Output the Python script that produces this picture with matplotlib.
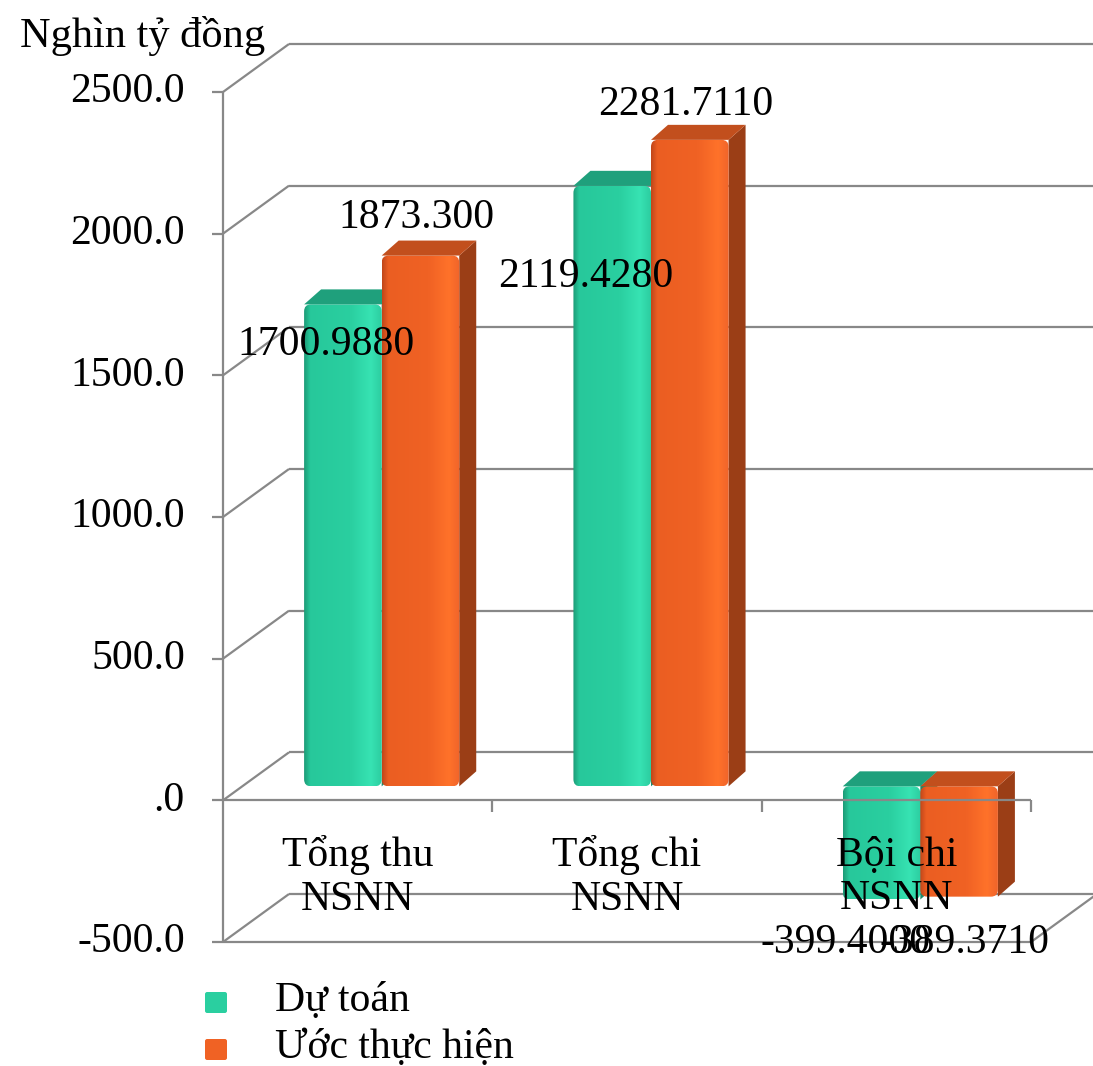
import numpy as np
import matplotlib
matplotlib.use("Agg")
import matplotlib.pyplot as plt
from matplotlib import transforms as mtrans
from matplotlib.patches import FancyBboxPatch, Polygon
from matplotlib.colors import LinearSegmentedColormap

# ---- data -------------------------------------------------------------
categories = ["Tổng thu\nNSNN", "Tổng chi\nNSNN", "Bội chi\nNSNN"]
series_names = ["Dự toán", "Ước thực hiện"]
du_toan = [1700.988, 2119.428, -399.400]
uoc_thuc_hien = [1873.300, 2281.711, -389.371]
label_decimals = [[4, 4, 4], [3, 4, 4]]
y_ticks = [-500, 0, 500, 1000, 1500, 2000, 2500]
y_tick_labels = ["-500.0", ".0", "500.0", "1000.0", "1500.0", "2000.0", "2500.0"]
y_unit = "Nghìn tỷ đồng"

# ---- style ------------------------------------------------------------
W, H, DPI = 1093, 1066, 100
plt.rcParams["font.family"] = ["Liberation Serif", "DejaVu Serif"]
FS = 30
GRID = "#888888"
GRID_LW = 1.6
BAR_W = 0.288
face_stops = [
    [(0.0, "#1c9a76"), (0.08, "#27c89b"), (0.6, "#2acfa0"), (0.86, "#37e3b3"), (1.0, "#2ccda0")],
    [(0.0, "#c0461a"), (0.08, "#eb5e22"), (0.6, "#f06224"), (0.86, "#ff722a"), (1.0, "#f0642a")],
]
cap_colors = ["#1fa07c", "#c24f1d"]
side_colors = ["#1a8a6a", "#9b3e16"]
label_offsets = [[(-17, -40), (-26, -91), (-36, -43)],
                 [(-4, 38), (-4, 35), (5, -46)]]

fig = plt.figure(figsize=(W / DPI, H / DPI), dpi=DPI)
fig.patch.set_facecolor("white")
ax = fig.add_axes([223 / W, 124 / H, 808 / W, 850 / H])
ax.set_xlim(-0.5, 2.5)
ax.set_ylim(-500, 2500)
ax.axis("off")


def px(dx, dy):
    return mtrans.ScaledTranslation(dx / DPI, dy / DPI, fig.dpi_scale_trans)


front = ax.transData
back = ax.transData + px(66, 48)
bar_front = ax.transData + px(24, 14)
bar_back = bar_front + px(17, 15)
inv = ax.transData.inverted()


def pts(tr, xy):
    return inv.transform(tr.transform(np.asarray(xy, dtype=float)))


def seg(p, q, **kw):
    arr = np.vstack([p, q])
    ax.plot(arr[:, 0], arr[:, 1], color=GRID, lw=GRID_LW, clip_on=False,
            solid_capstyle="butt", **kw)


# ---- walls, gridlines, axes -----------------------------------------
x_lo, x_hi = -0.5, 2.5
for v, lab in zip(y_ticks, y_tick_labels):
    seg(pts(back, [(x_lo, v)]), pts(back, [(x_hi, v)]), zorder=1)
    seg(pts(front, [(x_lo, v)]), pts(back, [(x_lo, v)]), zorder=1)
    seg(pts(front + px(-11, 0), [(x_lo, v)]), pts(front, [(x_lo, v)]), zorder=1)
    ax.text(x_lo, v, lab, transform=front + px(-38, 0), ha="right",
            va="center", fontsize=FS)

seg(pts(front, [(x_lo, y_ticks[0])]), pts(front, [(x_lo, y_ticks[-1])]), zorder=1)
# floor edges at the bottom of the value range
seg(pts(front, [(x_lo, y_ticks[0])]), pts(front, [(x_hi, y_ticks[0])]), zorder=1)
seg(pts(front, [(x_hi, y_ticks[0])]), pts(back, [(x_hi, y_ticks[0])]), zorder=1)

# ---- bars -------------------------------------------------------------
grad = np.linspace(0, 1, 256)[None, :]
px_x = 808 / 3.0
px_y = 850 / 3000.0
aspect = px_x / px_y
for s, vals in enumerate([du_toan, uoc_thuc_hien]):
    cmap = LinearSegmentedColormap.from_list(f"face{s}", face_stops[s])
    z = 3 + s
    for i, v in enumerate(vals):
        xa = i - BAR_W if s == 0 else i
        xb = xa + BAR_W
        lo, hi = min(0.0, v), max(0.0, v)
        # right side face
        side = np.vstack([pts(bar_front, [(xb, lo), (xb, hi)]),
                          pts(bar_back, [(xb, hi), (xb, lo)])])
        ax.add_patch(Polygon(side, closed=True, fc=side_colors[s], ec="none",
                             zorder=z, clip_on=False))
        # front face with a shaded gradient
        (x0, y0), (x1, y1) = pts(bar_front, [(xa, lo), (xb, hi)])
        box = FancyBboxPatch((x0, y0), x1 - x0, y1 - y0,
                             boxstyle="round,pad=0,rounding_size=0.026",
                             mutation_aspect=aspect, transform=ax.transData,
                             fc="none", ec="none")
        im = ax.imshow(grad, cmap=cmap, extent=[x0, x1, y0, y1], aspect="auto",
                       origin="lower", interpolation="bilinear", zorder=z + 0.1)
        im.set_clip_path(box)
        # top face
        cap = np.vstack([pts(bar_front, [(xa, hi), (xb, hi)]),
                         pts(bar_back, [(xb, hi), (xa, hi)])])
        ax.add_patch(Polygon(cap, closed=True, fc=cap_colors[s], ec="none",
                             zorder=z + 0.2, clip_on=False, joinstyle="round"))
        # value label
        dx, dy = label_offsets[s][i]
        ax.text((xa + xb) / 2, v, f"{v:.{label_decimals[s][i]}f}",
                transform=bar_front + px(dx, dy), ha="center", va="center",
                fontsize=FS, zorder=8)

ax.set_xlim(-0.5, 2.5)
ax.set_ylim(-500, 2500)

# ---- category axis at zero ------------------------------------------
seg(pts(front, [(x_lo, 0)]), pts(front, [(x_hi, 0)]), zorder=6)
for xb in [0.5, 1.5, 2.5]:
    seg(pts(front, [(xb, 0)]), pts(front + px(0, -12), [(xb, 0)]), zorder=6)
for i, cat in enumerate(categories):
    ax.text(i, 0, cat, transform=front + px(0, -77), ha="center", va="center",
            fontsize=FS, linespacing=1.18, zorder=7)

# ---- unit title and legend ------------------------------------------
fig.text(20 / W, 1 - 36 / H, y_unit, ha="left", va="center", fontsize=30.5)
for s, name in enumerate(series_names):
    yc = 1003 + 47 * s
    fig.add_artist(FancyBboxPatch((205 / W, 1 - (yc + 10) / H), 22 / W, 21 / H,
                                  boxstyle="round,pad=0,rounding_size=0.002",
                                  transform=fig.transFigure,
                                  fc=face_stops[s][2][1], ec="none"))
    fig.text(275 / W, 1 - (yc - 2) / H, name, ha="left", va="center", fontsize=FS)

fig.savefig("out.png", dpi=DPI)
